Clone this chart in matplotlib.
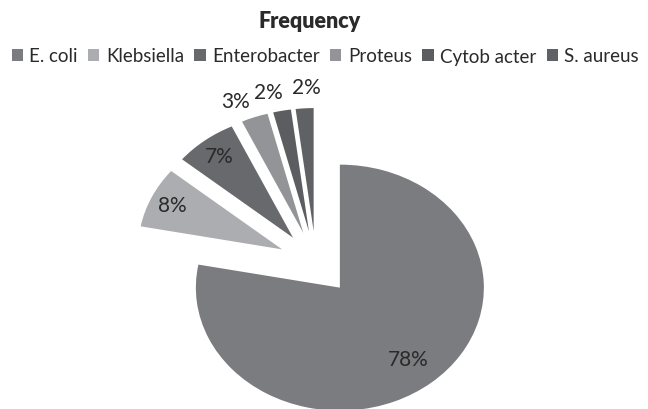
import numpy as np
import matplotlib.pyplot as plt

plt.rcParams['font.family'] = ['Lato', 'DejaVu Sans']

organisms = ['E. coli', 'Klebsiella', 'Enterobacter', 'Proteus', 'Cytob acter', 'S. aureus']
percent = [78, 8, 7, 3, 2, 2]
colors = ['#7b7c80', '#acadb0', '#68696c', '#939497', '#5c5d60', '#606164']

fig = plt.figure(figsize=(6.48, 4.10), dpi=100)
ax = fig.add_axes([0, 0, 1, 1])

wedges, _ = ax.pie(percent, colors=colors, startangle=90, counterclock=False,
                   explode=[0.26] * len(percent), wedgeprops=dict(linewidth=0))
ax.set_aspect('auto')
# pie centre ~ (316, 264) px, radius ~144 px wide, 123 px tall
ax.set_xlim(-316 / 144, (648 - 316) / 144)
ax.set_ylim(-(410 - 264) / 123, 264 / 123)
ax.axis('off')

# percent labels, big ones inside, small ones outside (nudged apart like excel)
nudge = [0, 0, 0, 4, 3, -1]
for i, (w, p) in enumerate(zip(wedges, percent)):
    mid = np.deg2rad((w.theta1 + w.theta2) / 2 + nudge[i])
    cx, cy = w.center
    if p >= 5:
        r = 0.75 if p > 50 else 0.84
    else:
        r = 1.17
    ax.text(cx + r * np.cos(mid), cy + r * np.sin(mid), f'{p}%',
            ha='center', va='center', fontsize=15, color='#2a2a2a')

fig.text(0.478, 1 - 22 / 410, 'Frequency', ha='center', va='center',
         fontsize=15.5, fontweight='heavy', color='#2a2a2a')
fig.legend(wedges, organisms, loc='center', bbox_to_anchor=(0.502, 1 - 57 / 410),
           ncol=6, frameon=False, handlelength=0.6, handleheight=0.6,
           handletextpad=0.35, columnspacing=0.55, labelcolor='#2a2a2a',
           prop=dict(size=13.5))

fig.savefig('out.png', dpi=100)
